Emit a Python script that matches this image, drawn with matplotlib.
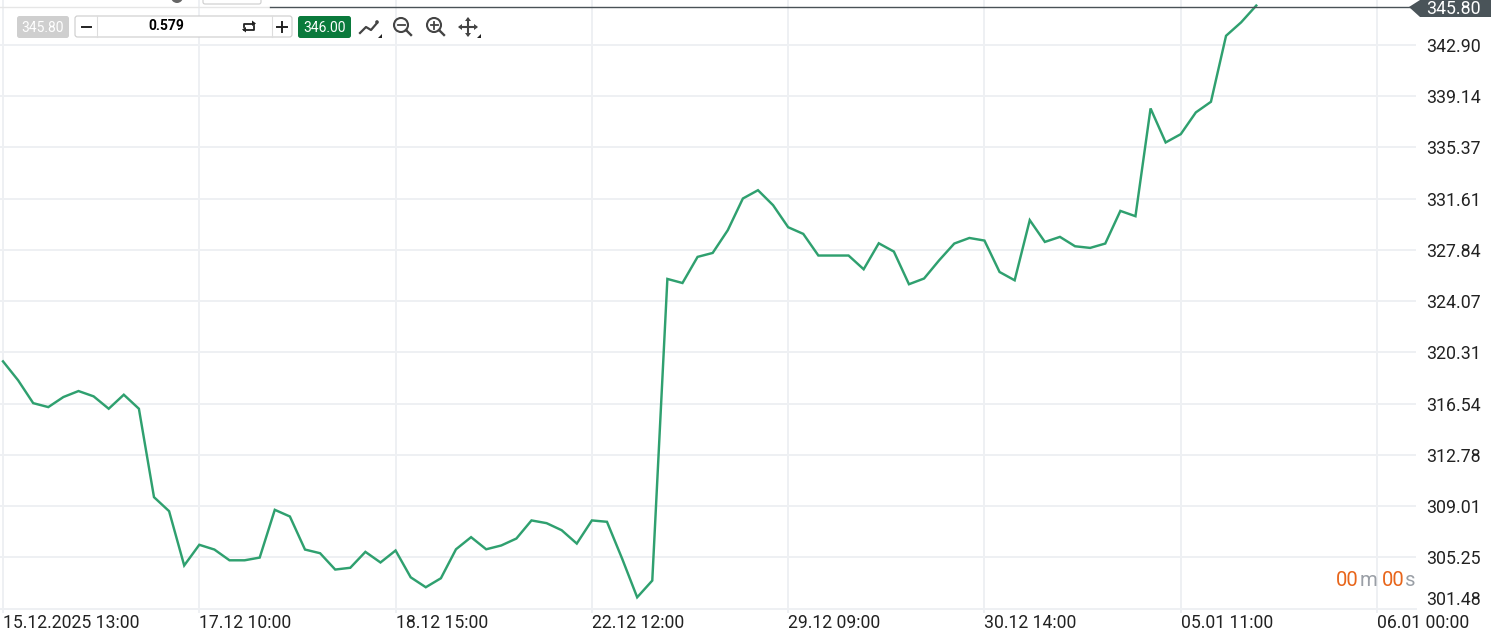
import matplotlib
matplotlib.use("Agg")
import matplotlib.pyplot as plt
from matplotlib.patches import FancyBboxPatch, Polygon, Circle

plt.rcParams['font.family'] = ['Roboto', 'DejaVu Sans']

#%% data
prices = [319.65, 318.26, 316.58, 316.29, 317.03, 317.47, 317.08, 316.17, 317.20, 316.17,
          309.67, 308.64, 304.65, 306.17, 305.82, 305.03, 305.03, 305.23, 308.74, 308.25,
          305.82, 305.55, 304.35, 304.48, 305.65, 304.87, 305.75, 303.78, 303.05, 303.71,
          305.84, 306.73, 305.84, 306.12, 306.63, 307.96, 307.76, 307.24, 306.26, 307.96,
          307.86, 305.16, 302.31, 303.54, 325.71, 325.41, 327.33, 327.62, 329.29, 331.62,
          332.23, 331.13, 329.51, 329.02, 327.43, 327.43, 327.43, 326.42, 328.33, 327.72,
          325.32, 325.74, 327.08, 328.31, 328.72, 328.53, 326.22, 325.61, 330.03, 328.43,
          328.80, 328.11, 327.99, 328.31, 330.71, 330.32, 338.24, 335.74, 336.35, 337.95,
          338.73, 343.58, 344.57, 345.80]
y_ticks = [301.48, 305.25, 309.01, 312.78, 316.54, 320.31, 324.07, 327.84, 331.61, 335.37, 339.14, 342.90]
x_ticks = [0, 13, 26, 39, 52, 65, 78, 91]
x_labels = ["15.12.2025 13:00", "17.12 10:00", "18.12 15:00", "22.12 12:00",
            "29.12 09:00", "30.12 14:00", "05.01 11:00", "06.01 00:00"]
last_price = 345.80
bid_text = "345.80"
ask_text = "346.00"
size_text = "0.579"

W, H = 1491, 632
fig = plt.figure(figsize=(W / 100, H / 100), dpi=100, facecolor="white")

#%% chart
grid_col = "#eef0f3"
ax = fig.add_axes([0, (H - 608.6) / H, 1416 / W, 608.6 / H])
ax.plot(range(len(prices)), prices, color="#2fa06f", lw=1.75, solid_joinstyle="miter", zorder=3)
ax.set_xlim(-0.199, 93.58)
ax.set_ylim(301.48, 346.21)
ax.set_xticks(x_ticks)
ax.set_xticklabels(x_labels, ha="left", fontsize=12.7, color="#222222")
ax.yaxis.tick_right()
ax.set_yticks(y_ticks)
ax.set_yticklabels([f"{v:.2f}" for v in y_ticks], fontsize=12.8, color="#222222")
ax.yaxis.get_ticklabels()[0].set_va("bottom")
ax.tick_params(axis="x", length=3, width=1.4, color=grid_col, pad=1)
ax.tick_params(axis="y", length=0, pad=7)
ax.grid(True, color=grid_col, lw=1.4)
ax.set_axisbelow(True)
for side in ["top", "left", "right"]:
    ax.spines[side].set_visible(False)
ax.spines["bottom"].set_color(grid_col)
ax.spines["bottom"].set_linewidth(1.4)

#%% overlay in pixels
ov = fig.add_axes([0, 0, 1, 1], zorder=5)
ov.set_xlim(0, W)
ov.set_ylim(H, 0)
ov.axis("off")
ov.patch.set_alpha(0)

# price line and flag
ov.plot([0, 270], [6.5, 6.5], color="#e6e6e6", lw=1)
ov.plot([270, 1412], [6.5, 6.5], color="#4a5257", lw=1)
ov.add_patch(Polygon([[1409, 7], [1420, 0], [1491, 0], [1491, 17], [1420, 17]], color="#4a5459", lw=0))
ov.text(1426, 8.5, f"{last_price:.2f}", color="white", fontsize=12.8, va="center", ha="left")

# bits of the header cut off at the top
ov.add_patch(Circle((177, -3), 6, color="#666666", lw=0))
ov.add_patch(FancyBboxPatch((203, -8), 58, 12, boxstyle="round,pad=0,rounding_size=2",
                            fc="white", ec="#cccccc", lw=0.8))

# toolbar
def box(x0, x1, y0, y1, fc, ec="none"):
    ov.add_patch(FancyBboxPatch((x0, y0), x1 - x0, y1 - y0, boxstyle="round,pad=0,rounding_size=2.5",
                                fc=fc, ec=ec, lw=0.8))

box(17, 69, 16, 38, "#cfcfcf")
ov.text(43, 27.5, bid_text, color="white", fontsize=10, ha="center", va="center")
box(75, 292, 16, 37, "white", "#cccccc")
ov.plot([96.5, 96.5], [16, 37], color="#dddddd", lw=0.8)
ov.plot([271.5, 271.5], [16, 37], color="#dddddd", lw=0.8)
ov.text(166, 26.5, size_text, color="black", fontsize=10, fontweight="bold", ha="center", va="center")
ov.plot([82, 91], [26.5, 26.5], color="#222222", lw=1.4)
ov.plot([277, 287, None, 282, 282], [26.5, 26.5, None, 21.5, 31.5], color="#222222", lw=1.4)
box(298, 351, 16, 38, "#0a7a3c")
ov.text(324.5, 27.5, ask_text, color="white", fontsize=10, ha="center", va="center")

# swap icon
ov.plot([244, 244, 254], [27, 23.5, 23.5], color="#222222", lw=1.3)
ov.plot([254, 254, 244], [26, 29.5, 29.5], color="#222222", lw=1.3)
ov.add_patch(Polygon([[252, 20.5], [256, 23.5], [252, 26]], color="#222222", lw=0))
ov.add_patch(Polygon([[246, 27], [242, 29.5], [246, 32.5]], color="#222222", lw=0))

# chart type, zoom and move icons
icon_col = "#444444"
ov.plot([360, 366, 371, 377], [33, 27, 30, 23], color=icon_col, lw=1.6)
ov.add_patch(Circle((377, 22), 1.8, color=icon_col, lw=0))
ov.add_patch(Polygon([[382, 34], [382, 38], [378, 38]], color="#222222", lw=0))
for cx in [401, 434]:
    ov.add_patch(Circle((cx, 25), 7, fc="none", ec=icon_col, lw=1.5))
    ov.plot([cx + 5, cx + 10], [30, 35], color=icon_col, lw=1.7)
    ov.plot([cx - 3.5, cx + 3.5], [25, 25], color=icon_col, lw=1.3)
ov.plot([434, 434], [21.5, 28.5], color=icon_col, lw=1.3)
ov.plot([460, 476, None, 468, 468], [27, 27, None, 19, 35], color=icon_col, lw=1.5)
ov.add_patch(Polygon([[465, 21], [468, 17], [471, 21]], color=icon_col, lw=0))
ov.add_patch(Polygon([[465, 33], [468, 37], [471, 33]], color=icon_col, lw=0))
ov.add_patch(Polygon([[462, 24], [458, 27], [462, 30]], color=icon_col, lw=0))
ov.add_patch(Polygon([[474, 24], [478, 27], [474, 30]], color=icon_col, lw=0))
ov.add_patch(Polygon([[481, 34], [481, 38], [477, 38]], color="#222222", lw=0))

# countdown
orange = "#e8651a"
gray = "#9a9fa6"
ov.text(1336, 581, "00", color=orange, fontsize=14.6, ha="left", va="center")
ov.text(1360, 581, "m", color=gray, fontsize=14.6, ha="left", va="center")
ov.text(1382, 581, "00", color=orange, fontsize=14.6, ha="left", va="center")
ov.text(1405, 581, "s", color=gray, fontsize=14.6, ha="left", va="center")

fig.savefig("out.png", dpi=100, facecolor="white")
